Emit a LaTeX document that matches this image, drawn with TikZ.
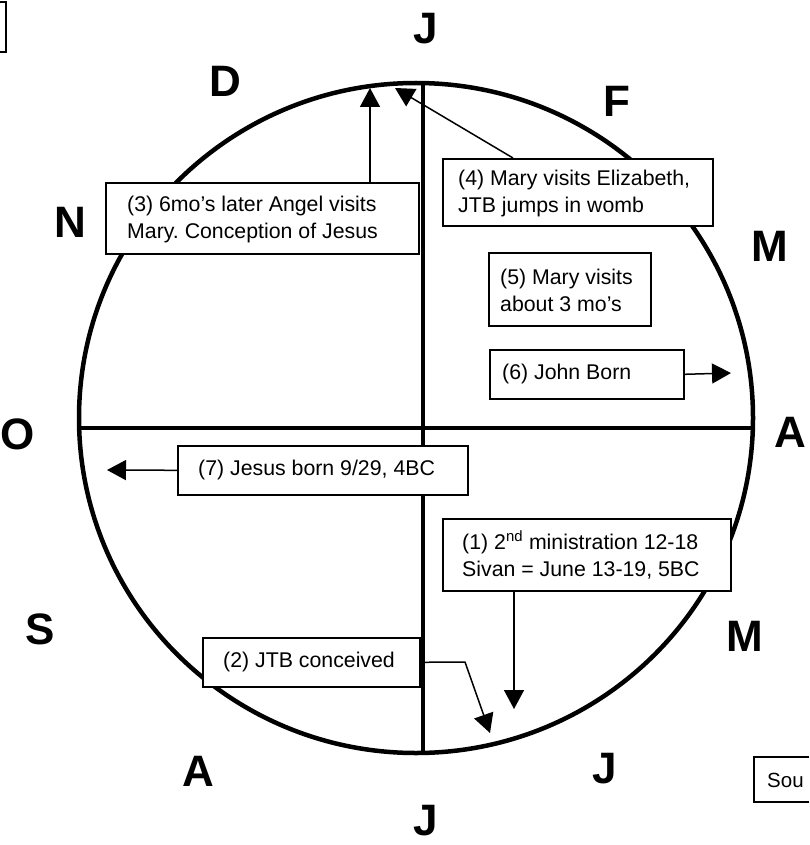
\documentclass[tikz,border=0pt]{standalone}
\usepackage{fontspec}
\setmainfont{Liberation Sans}
\frenchspacing
\usetikzlibrary{arrows.meta,calc}
\tikzset{
  axis/.style={line width=4.5pt},
  month/.style={font=\fontsize{44}{44}\selectfont\bfseries, inner sep=0pt, anchor=center},
  notebox/.style={draw, fill=white, line width=1.6pt, rectangle, anchor=north west, inner sep=0pt},
  notetext/.style={anchor=west, align=left, inner sep=0pt, font=\fontsize{21.3}{27}\selectfont},
  pointer/.style={line width=1.5pt, -{Triangle[length=19pt,width=20pt]}}
}
\begin{document}
\begin{tikzpicture}[x=1pt,y=-1pt]
\useasboundingbox (0,0) rectangle (809,845);
% corner boxes (cut by the picture's edges)
\draw[line width=2pt] (0,2) -- (6,2) -- (6,52) -- (0,52);
\draw[line width=1.6pt] (809,757) -- (754,757) -- (754,802) -- (809,802);
\node[notetext, font=\fontsize{20.5}{22}\selectfont] (srct) at (767,780) {Sou};
% circle and axes
\draw[axis] (416,418) ellipse [x radius=337pt, y radius=335pt];
\coordinate (top) at (423,83);
\coordinate (bot) at (423,753);
\coordinate (lft) at (79,428);
\coordinate (rgt) at (752,428);
\draw[axis] (top) -- (bot);
\draw[axis] (lft) -- (rgt);
% month letters
\node[month] (mJ1) at (426,29) {J};
\node[month] (mF) at (617,101) {F};
\node[month] (mM1) at (770,246) {M};
\node[month] (mA1) at (790,432) {A};
\node[month] (mM2) at (745,636) {M};
\node[month] (mJ2) at (605,769) {J};
\node[month] (mJ3) at (426,821) {J};
\node[month] (mA2) at (198,771) {A};
\node[month] (mS) at (40,629) {S};
\node[month] (mO) at (18,434) {O};
\node[month] (mN) at (70,222) {N};
\node[month] (mD) at (225,81) {D};
% notes
\node[notebox, minimum width=313pt, minimum height=71pt] (b3) at (105,182) {};
\node[notetext] (b3t) at ($(b3.west)+(22,1)$) {(3) 6mo’s later Angel visits\\Mary. Conception of Jesus};
\node[notebox, minimum width=270pt, minimum height=67pt] (b4) at (442,158) {};
\node[notetext] (b4t) at ($(b4.west)+(16,1)$) {(4) Mary visits Elizabeth,\\JTB jumps in womb};
\node[notebox, minimum width=162pt, minimum height=73pt] (b5) at (488,252) {};
\node[notetext] (b5t) at ($(b5.west)+(12,1)$) {(5) Mary visits\\about 3 mo’s};
\node[notebox, minimum width=194pt, minimum height=49pt] (b6) at (489,349) {};
\node[notetext] (b6t) at ($(b6.west)+(13,0)$) {(6) John Born};
\node[notebox, minimum width=290pt, minimum height=49pt] (b7) at (177,445) {};
\node[notetext] (b7t) at ($(b7.west)+(21,0)$) {(7) Jesus born 9/29, 4BC};
\node[notebox, minimum width=288pt, minimum height=72pt] (b1) at (442,518) {};
\node[notetext] (b1t) at ($(b1.west)+(20,0)$) {(1) 2\textsuperscript{nd} ministration 12-18\\Sivan = June 13-19, 5BC};
\node[notebox, minimum width=217pt, minimum height=49pt] (b2) at (202,637) {};
\node[notetext] (b2t) at ($(b2.west)+(21,0)$) {(2) JTB conceived};
% pointers
\coordinate (t3) at (370,88);
\coordinate (t4) at (395,88);
\coordinate (t6) at (731,373);
\coordinate (t7) at (107,470);
\coordinate (t1) at (514,709);
\coordinate (k2) at (465,662);
\coordinate (t2) at (490,733);
\draw[pointer] (b3.north -| t3) -- (t3);
\draw[pointer] ($(b4.north west)+(71,0)$) -- (t4);
\draw[pointer] (b6.east) -- (t6);
\draw[pointer] (b7.west) -- (t7);
\draw[pointer] (b1.south -| t1) -- (t1);
\draw[pointer] (b2.east) -- (k2) -- (t2);
\end{tikzpicture}
\end{document}
